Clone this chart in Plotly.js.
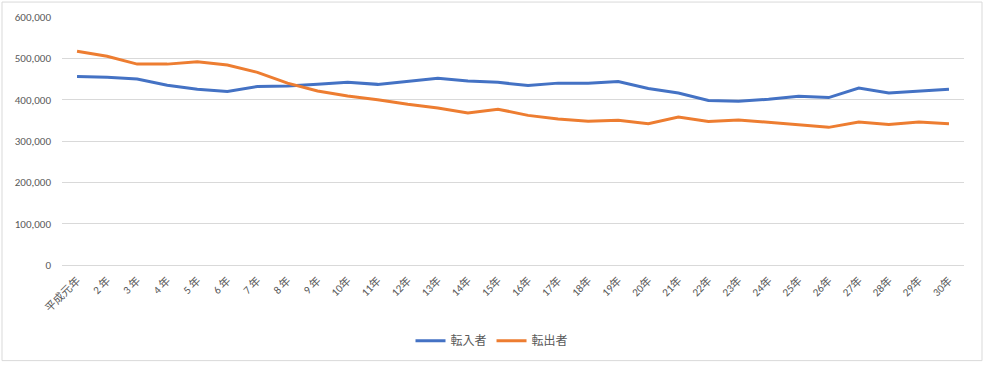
<!DOCTYPE html>
<html>
<head>
<meta charset="utf-8">
<script src="https://cdn.plot.ly/plotly-3.0.1.min.js"></script>
<style>
html,body{margin:0;padding:0;background:#fff;}
#chart{width:984px;height:366px;}
</style>
</head>
<body>
<div id="chart"></div>
<script>
const categories = ["平成元年","2 年","3 年","4 年","5 年","6 年","7 年","8 年","9 年","10年",
  "11年","12年","13年","14年","15年","16年","17年","18年","19年","20年",
  "21年","22年","23年","24年","25年","26年","27年","28年","29年","30年"];
const tennyu = [456000,454000,450000,435000,425000,420000,432000,433000,437000,442000,
  437000,445000,452000,445000,442000,434000,440000,440000,444000,427000,
  416000,398000,396000,401000,408000,405000,428000,416000,421000,425000];
const tenshutsu = [517000,505000,486000,486000,492000,484000,466000,440000,421000,409000,
  400000,389000,380000,368000,377000,362000,353000,348000,350000,342000,
  358000,347000,351000,345000,338000,333000,346000,340000,346000,342000];
const seriesNames = ["転入者","転出者"];

const font = "Calibri, Carlito, 'Noto Sans CJK JP', 'Noto Sans', sans-serif";
const data = [
  {x: categories, y: tennyu, name: seriesNames[0], type: "scatter", mode: "lines",
   line: {color: "#4472C4", width: 3}},
  {x: categories, y: tenshutsu, name: seriesNames[1], type: "scatter", mode: "lines",
   line: {color: "#ED7D31", width: 3}}
];
const layout = {
  width: 984, height: 366,
  margin: {l: 62, r: 20, t: 17, b: 100},
  paper_bgcolor: "#fff", plot_bgcolor: "#fff",
  font: {family: font, size: 11, color: "#595959"},
  showlegend: true,
  legend: {orientation: "h", x: (492-62)/902, xanchor: "center", y: -0.3, yanchor: "middle",
    font: {size: 12, color: "#595959"}, itemwidth: 30, tracegroupgap: 0},
  xaxis: {type: "category", range: [-0.5, categories.length - 0.5], tickangle: -45,
    showgrid: false, zeroline: false, showline: false, ticks: "",
    ticklabelstandoff: 6, tickfont: {size: 11, color: "#595959"}},
  yaxis: {range: [0, 600000], dtick: 100000, tickformat: ",", showgrid: true,
    gridcolor: "#d9d9d9", gridwidth: 1, zeroline: true, zerolinecolor: "#d9d9d9",
    showline: false, ticks: "", ticklabelstandoff: 10, tickfont: {size: 11, color: "#595959"}},
  shapes: [{type: "rect", xref: "paper", yref: "paper",
    x0: (2-62)/902, x1: (982-62)/902, y0: (266-362)/249, y1: (266-2)/249,
    line: {color: "#d9d9d9", width: 1}, fillcolor: "rgba(0,0,0,0)", layer: "below"}]
};
Plotly.newPlot("chart", data, layout, {displayModeBar: false, staticPlot: true});
</script>
</body>
</html>
